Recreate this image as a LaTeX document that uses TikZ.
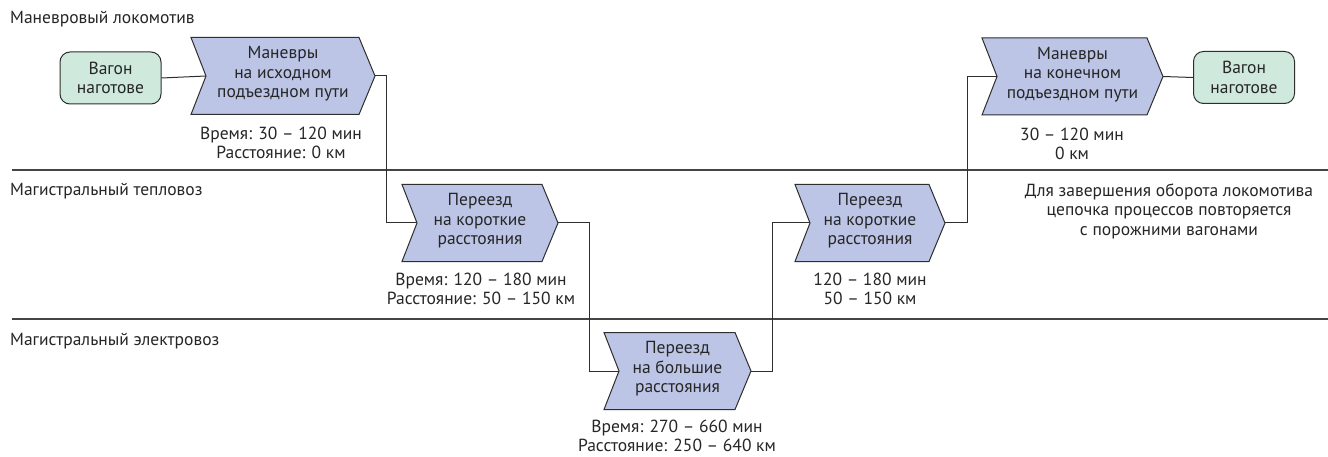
\documentclass[tikz,border=0pt]{standalone}
\usepackage{fontspec}
\setmainfont{PT Sans}
\definecolor{chevfill}{HTML}{BCC5E6}
\definecolor{boxfill}{HTML}{CFE9DC}
\definecolor{edge}{HTML}{2E2E2E}
\definecolor{sep}{HTML}{444444}
\begin{document}
\begin{tikzpicture}[x=1pt,y=-1pt,
  txt/.style={font=\fontsize{17.5}{19.5}\selectfont, text=black!85},
  chevbox/.style={txt, inner sep=0pt, outer sep=0pt, minimum height=77pt, align=center},
  chevline/.style={draw=edge, fill=chevfill, line width=1pt, line join=miter},
  startbox/.style={txt, draw=edge, fill=boxfill, line width=1pt, rounded corners=10pt, minimum width=101pt, minimum height=52pt, inner sep=0pt, align=center},
  info/.style={txt, align=center, inner sep=0pt},
  lane/.style={txt, anchor=west, inner sep=0pt},
  conn/.style={draw=edge, line width=1pt},
  sepline/.style={draw=sep, line width=1.6pt}
]
\useasboundingbox (0,0) rectangle (1328,457);
\fill[white] (0,0) rectangle (1328,457);

% lanes
\node[lane] (l1) at (10,19) {Маневровый локомотив};
\node[lane] (l2) at (10,191) {Магистральный тепловоз};
\node[lane] (l3) at (10,341) {Магистральный электровоз};
\coordinate (s1a) at (12,170); \coordinate (s1b) at (1328,170);
\coordinate (s2a) at (12,319); \coordinate (s2b) at (1328,319);
\draw[sepline] (s1a) -- (s1b);
\draw[sepline] (s2a) -- (s2b);

% chevron outline drawn around a named node
\newcommand{\chevshape}[1]{%
  \path[chevline] (#1.north west) -- ([xshift=-16pt]#1.north east) -- (#1.east)
    -- ([xshift=-16pt]#1.south east) -- (#1.south west) -- ([xshift=15pt]#1.west) -- cycle;
  \coordinate (#1n) at ([xshift=15pt]#1.west);}

\node[chevbox, minimum width=184pt] (c1) at (283,76) {};
\chevshape{c1}
\node[chevbox] at ([yshift=2pt]c1.center) {Маневры\\на исходном\\подъездном пути};

\node[chevbox, minimum width=156pt] (c2) at (480,223) {};
\chevshape{c2}
\node[chevbox] at ([yshift=2pt]c2.center) {Переезд\\на короткие\\расстояния};

\node[chevbox, minimum width=147pt] (c3) at (677.5,371) {};
\chevshape{c3}
\node[chevbox] at ([yshift=2pt]c3.center) {Переезд\\на большие\\расстояния};

\node[chevbox, minimum width=150pt] (c4) at (870,223) {};
\chevshape{c4}
\node[chevbox] at ([yshift=2pt]c4.center) {Переезд\\на короткие\\расстояния};

\node[chevbox, minimum width=181pt] (c5) at (1072.5,76.5) {};
\chevshape{c5}
\node[chevbox] at ([yshift=2pt]c5.center) {Маневры\\на конечном\\подъездном пути};

% start/end boxes
\node[startbox] (g1) at (110.5,78) {Вагон\\наготове};
\node[startbox] (g2) at (1244,77.5) {Вагон\\наготове};

% connectors
\draw[conn] (g1.east) -- (c1n);
\draw[conn] (c1.east) -- ++(11,0) |- (c2n);
\draw[conn] (c2.east) -- ++(31,0) |- (c3n);
\draw[conn] (c3.east) -- ++(21,0) |- (c4n);
\draw[conn] (c4.east) -- ++(22,0) |- (c5n);
\draw[conn] (c5.east) -- (g2.west);

% info texts
\node[info] (t1) at (281,143) {Время: 30 – 120 мин\\Расстояние: 0 км};
\node[info] (t2) at (481,289) {Время: 120 – 180 мин\\Расстояние: 50 – 150 км};
\node[info] (t3) at (677,436) {Время: 270 – 660 мин\\Расстояние: 250 – 640 км};
\node[info] (t4) at (870,289) {120 – 180 мин\\50 – 150 км};
\node[info] (t5) at (1072,144) {30 – 120 мин\\0 км};
\node[info] (note) at (1169,211) {Для завершения оборота локомотива\\цепочка процессов повторяется\\с порожними вагонами};
\end{tikzpicture}
\end{document}
